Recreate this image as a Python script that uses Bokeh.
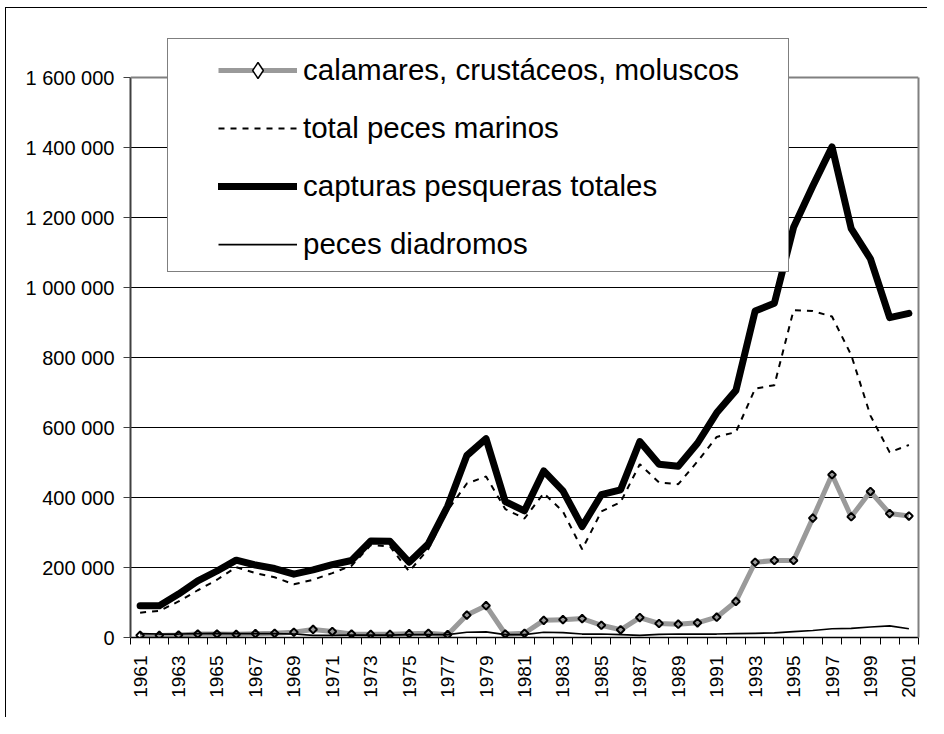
import math
from bokeh.plotting import figure
from bokeh.models import FixedTicker, Range1d, Legend, LegendItem, Span, LinearAxis
from bokeh.embed import file_html
from bokeh.resources import INLINE

years = list(range(1961, 2002))

calamares = [6000, 6000, 7000, 10000, 10000, 9000, 11000, 12000, 15000, 23000,
             17000, 10000, 9000, 9000, 11000, 12000, 8000, 64000, 91000, 10000,
             12000, 49000, 51000, 54000, 35000, 22000, 57000, 40000, 38000, 42000,
             58000, 103000, 215000, 220000, 220000, 341000, 465000, 345000, 417000, 354000,
             347000]

marinos = [71000, 76000, 103000, 135000, 165000, 201000, 184000, 172000, 152000, 165000,
           184000, 205000, 264000, 260000, 189000, 253000, 363000, 440000, 460000, 367000,
           340000, 412000, 360000, 252000, 360000, 387000, 495000, 443000, 438000, 503000,
           573000, 587000, 711000, 721000, 935000, 933000, 917000, 807000, 634000, 529000,
           550000]

capturas = [91000, 91000, 124000, 162000, 190000, 221000, 207000, 197000, 181000, 193000,
            208000, 220000, 276000, 275000, 215000, 268000, 375000, 520000, 568000, 388000,
            362000, 476000, 419000, 317000, 408000, 422000, 560000, 495000, 489000, 555000,
            642000, 706000, 933000, 955000, 1172000, 1290000, 1402000, 1168000, 1082000, 914000,
            926000]

diadromos = [11000, 10000, 10000, 11000, 12000, 11000, 11000, 11000, 10000, 6000,
             6000, 7000, 7000, 7000, 8000, 8000, 8000, 15000, 16000, 8000,
             8000, 15000, 14000, 10000, 10000, 8000, 6000, 9000, 10000, 10000,
             10000, 11000, 12000, 13000, 17000, 20000, 25000, 26000, 30000, 33000,
             25000]

y_ticks = [0, 200000, 400000, 600000, 800000, 1000000, 1200000, 1400000, 1600000]
y_tick_labels = ["0", "200 000", "400 000", "600 000", "800 000",
                 "1 000 000", "1 200 000", "1 400 000", "1 600 000"]
x_tick_years = list(range(1961, 2002, 2))

legend_labels = ["calamares, crustáceos, moluscos", "total peces marinos",
                 "capturas pesqueras totales", "peces diadromos"]

FONT = "Liberation Sans"

# layout (pixels)
FRAME_W, AXIS_H, HEADROOM = 788, 560, 39

X_MIN, X_MAX = years[0] - 0.5, years[-1] + 0.5
Y_MIN, Y_MAX = y_ticks[0], y_ticks[-1]
Y_TOP = Y_MAX * (AXIS_H + HEADROOM) / AXIS_H  # room above the axis for the legend box

p = figure(width=922, height=710,
           x_range=Range1d(X_MIN, X_MAX), y_range=Range1d(Y_MIN, Y_TOP),
           output_backend="svg", toolbar_location=None,
           min_border_left=124, min_border_right=10,
           min_border_top=30, min_border_bottom=81)
p.margin = (7, 0, 0, 5)
p.styles = {"border-left": "1px solid #000000", "border-top": "1px solid #000000"}
p.outline_line_color = None
p.background_fill_color = "white"
p.border_fill_color = "white"

# grid
p.xgrid.visible = False
p.ygrid.ticker = FixedTicker(ticks=y_ticks[1:-1])
p.ygrid.grid_line_color = "#000000"
p.ygrid.grid_line_width = 1

# y axis
ya = p.yaxis[0]
ya.bounds = (Y_MIN, Y_MAX)
ya.ticker = FixedTicker(ticks=y_ticks)
ya.major_label_overrides = dict(zip(y_ticks, y_tick_labels))
ya.minor_tick_line_color = None
ya.major_tick_in = 0
ya.major_tick_out = 7
ya.major_tick_line_color = "#404040"
ya.axis_line_color = "#404040"
ya.axis_line_width = 2
ya.major_label_text_font = FONT
ya.major_label_text_font_size = "20px"
ya.major_label_text_color = "#000000"
ya.major_label_standoff = 9

# right border of plot area
ra = LinearAxis(bounds=(Y_MIN, Y_MAX), ticker=FixedTicker(ticks=[]),
                axis_line_color="#808080", axis_line_width=2,
                major_tick_line_color=None, minor_tick_line_color=None,
                major_label_text_font_size="1px")
p.add_layout(ra, "right")

# x axis
xa = p.xaxis[0]
xa.ticker = FixedTicker(ticks=x_tick_years,
                        minor_ticks=[X_MIN + i for i in range(len(years) + 1)])
xa.major_label_overrides = {y: str(y) for y in x_tick_years}
xa.major_label_orientation = math.pi / 2
xa.major_tick_line_color = None
xa.major_tick_in = 0
xa.major_tick_out = 7
xa.minor_tick_in = 0
xa.minor_tick_out = 7
xa.minor_tick_line_color = "#000000"
xa.axis_line_color = "#000000"
xa.axis_line_width = 1.5
xa.major_label_text_font = FONT
xa.major_label_text_font_size = "19px"
xa.major_label_text_color = "#000000"
xa.major_label_standoff = 11

# top border of plot area (grey)
p.add_layout(Span(location=Y_MAX, dimension="width", line_color="#808080", line_width=2))

# series
r_cal = p.line(years, calamares, line_color="#9a9a9a", line_width=5, line_join="round")
r_cal_pts = p.scatter(years, calamares, marker="square", angle=math.pi / 4, size=5.5,
                      line_color="#000000", line_width=2, fill_alpha=0)
r_mar = p.line(years, marinos, line_color="#000000", line_width=2, line_dash="6 6")
r_cap = p.line(years, capturas, line_color="#000000", line_width=7,
               line_join="round", line_cap="round")
r_dia = p.line(years, diadromos, line_color="#000000", line_width=1.75)

# legend key marker only (small diamond as in the reference legend);
# its single point lies outside the visible range, so it only shows in the legend
r_cal_key = p.scatter(x=[X_MIN], y=[2 * Y_TOP], marker="diamond", size=9,
                      line_color="#000000", line_width=1.5, fill_color="white")

# legend box
r_dummy = p.line(x=[], y=[], line_alpha=0)
legend_box = Legend(items=[LegendItem(label=" ", renderers=[r_dummy])],
                    location=(37, 365), padding=0, margin=0,
                    glyph_width=600, glyph_height=232, label_width=20,
                    label_height=20, label_standoff=0, label_text_font_size="1px",
                    background_fill_color="white", background_fill_alpha=1,
                    border_line_color="#000000", border_line_width=1)
p.add_layout(legend_box, "center")

legend = Legend(items=[LegendItem(label=legend_labels[0], renderers=[r_cal, r_cal_key]),
                       LegendItem(label=legend_labels[1], renderers=[r_mar]),
                       LegendItem(label=legend_labels[2], renderers=[r_cap]),
                       LegendItem(label=legend_labels[3], renderers=[r_dia])],
                location=(88, 373), padding=0, margin=0, spacing=18,
                glyph_width=79, glyph_height=40, label_height=40, label_standoff=6,
                label_text_font=FONT, label_text_font_size="29.5px",
                label_text_color="#000000",
                background_fill_alpha=0, border_line_color=None)
p.add_layout(legend, "center")

open("out.html", "w").write(file_html(p, INLINE))
